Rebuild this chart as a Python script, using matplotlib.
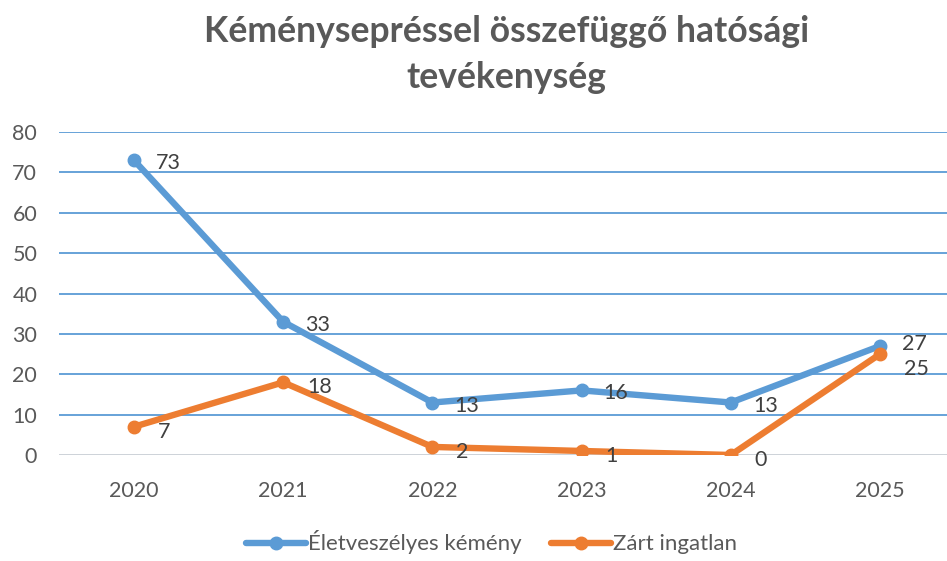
import matplotlib

matplotlib.use("Agg")
import matplotlib.pyplot as plt

years = ["2020", "2021", "2022", "2023", "2024", "2025"]
eletveszelyes = [73, 33, 13, 16, 13, 27]
zart = [7, 18, 2, 1, 0, 25]
series_names = ["Életveszélyes kémény", "Zárt ingatlan"]
title = "Kéményseprésel összefüggő hatósági\ntevékenység".replace("prés", "préss", 1)

BLUE = "#5B9BD5"
ORANGE = "#ED7D31"
GREY = "#595959"
DARK = "#404040"

plt.rcParams["font.family"] = ["Lato", "DejaVu Sans"]

fig = plt.figure(figsize=(9.47, 5.61), dpi=100)
# plot area spans past the right edge, as in the cropped original
ax = fig.add_axes([59.4 / 947, (561 - 455) / 561, 895.2 / 947, 323 / 561])

x = list(range(len(years)))
ax.plot(x, eletveszelyes, color=BLUE, lw=4.6, marker="o", ms=9,
        solid_capstyle="round", label=series_names[0], zorder=3)
ax.plot(x, zart, color=ORANGE, lw=4.6, marker="o", ms=9,
        solid_capstyle="round", label=series_names[1], zorder=3)

for i, v in enumerate(eletveszelyes):
    dy = 2 if i == 5 else -3
    ax.annotate(str(v), (i, v), xytext=(22, dy), textcoords="offset pixels",
                ha="left", va="center", fontsize=15.5, color=DARK, zorder=4)
for i, v in enumerate(zart):
    dy = -15 if i == 5 else -5
    ax.annotate(str(v), (i, v), xytext=(24, dy), textcoords="offset pixels",
                ha="left", va="center", fontsize=15.5, color=DARK, zorder=4)

ax.set_xlim(-0.5, len(years) - 0.5)
ax.set_ylim(0, 80)
ax.set_yticks(range(0, 81, 10))
ax.set_xticks(x)
ax.set_xticklabels(years)
ax.yaxis.grid(True, color=BLUE, lw=1.3)
ax.axhline(0, color="#D9D9D9", lw=1.3, zorder=2)
ax.set_axisbelow(True)
for s in ax.spines.values():
    s.set_visible(False)
ax.tick_params(length=0, labelsize=15.5, labelcolor=GREY)
ax.tick_params(axis="y", pad=16)
ax.tick_params(axis="x", pad=19)

fig.text(0.535, 0.903, title, ha="center", va="center", fontsize=25.6,
         fontweight="bold", color=GREY, linespacing=1.5)

fig.legend(loc="center", bbox_to_anchor=(0.519, 0.033), ncol=2, frameon=False,
           fontsize=16, labelcolor=GREY, handlelength=2.7, handletextpad=0.1,
           columnspacing=1.3)

fig.savefig("out.png", dpi=100)
